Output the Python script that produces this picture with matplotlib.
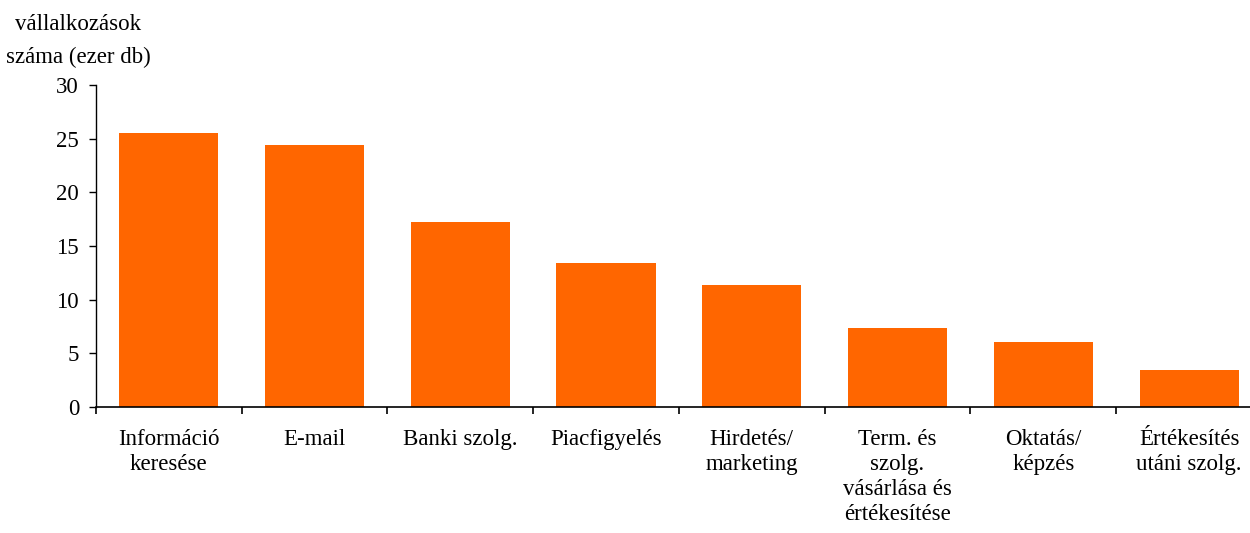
import matplotlib
matplotlib.use("Agg")
import matplotlib.pyplot as plt
import numpy as np

categories = ["Információ\nkeresése", "E-mail", "Banki szolg.", "Piacfigyelés",
              "Hirdetés/\nmarketing", "Term. és\nszolg.\nvásárlása és\nértékesítése",
              "Oktatás/\nképzés", "Értékesítés\nutáni szolg."]
values = [25.5, 24.4, 17.2, 13.4, 11.4, 7.4, 6.1, 3.45]
yticks = [0, 5, 10, 15, 20, 25, 30]

plt.rcParams['font.family'] = ['Liberation Serif', 'DejaVu Serif']
fig = plt.figure(figsize=(12.5, 5.33), dpi=100)
ax = fig.add_axes([0.0766, 0.2364, 1.0096 - 0.0766, 0.8405 - 0.2364])

x = np.arange(len(categories))
ax.bar(x, values, width=0.68, color="#FF6600")
ax.set_xlim(-0.5, len(categories) - 0.5)
ax.set_ylim(0, 30)
ax.set_yticks(yticks)
ax.set_xticks(x)
ax.set_xticklabels(categories, fontsize=16.5, linespacing=1.25)
ax.set_xticks(np.arange(len(categories) + 1) - 0.5, minor=True)
ax.tick_params(axis='x', which='major', length=0, pad=16)
ax.tick_params(axis='x', which='minor', length=5, width=1.2, direction='out')
ax.tick_params(axis='y', labelsize=16.5, length=5, width=1.0, direction='out', pad=7)
for s in ['top', 'right']:
    ax.spines[s].set_visible(False)
ax.spines['left'].set_linewidth(1.0)
ax.spines['bottom'].set_linewidth(1.2)

fig.text(0.0624, 0.973, "vállalkozások\nszáma (ezer db)", ha='center', va='top',
         fontsize=16.5, linespacing=1.72)

fig.savefig("out.png", dpi=100)
